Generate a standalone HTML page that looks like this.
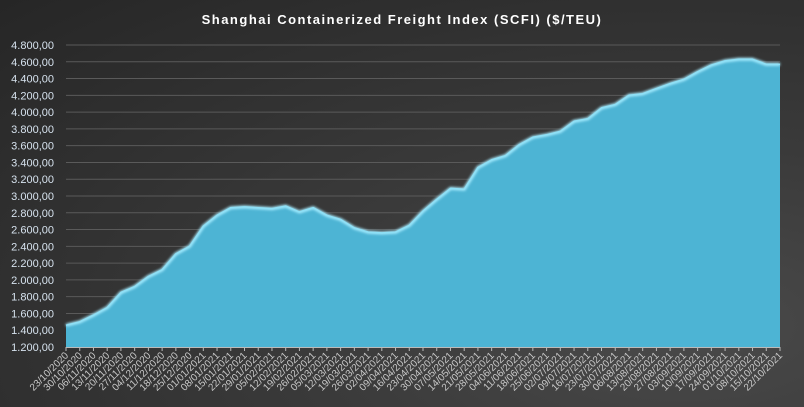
<!DOCTYPE html>
<html><head><meta charset="utf-8"><style>
html,body{margin:0;padding:0}
body{width:804px;height:407px;overflow:hidden;background:radial-gradient(ellipse at 85% 80%,#4a4a4a 0%,#3a3a3a 40%,#262626 100%);font-family:"Liberation Sans",sans-serif}
</style></head><body>
<svg id="s" width="804" height="407" xmlns="http://www.w3.org/2000/svg" style="position:absolute;left:0;top:0">
<defs><filter id="g" x="-5%" y="-5%" width="110%" height="110%"><feGaussianBlur stdDeviation="1.2"/></filter></defs>
<text x="402" y="24" text-anchor="middle" fill="#ffffff" font-size="13" font-weight="bold" letter-spacing="1.5">Shanghai Containerized Freight Index  (SCFI) ($/TEU)</text>
<g id="grid"></g><g id="area"></g><g id="ax"></g>
</svg>
<script>
var s=document.getElementById('s'),NS='http://www.w3.org/2000/svg';
function el(t,a,p,txt){var e=document.createElementNS(NS,t);for(var k in a)e.setAttribute(k,a[k]);if(txt)e.textContent=txt;(p||s).appendChild(e);return e;}
var x0=66,x1=780,yb=347,yt=45;
function Y(v){return yb-(v-1200)/3600*(yb-yt);}
var grid=document.getElementById('grid'),ax=document.getElementById('ax'),ar=document.getElementById('area');
for(var v=1200;v<=4800;v+=200){var y=Y(v);
 if(v>1200)el('line',{x1:x0,x2:x1,y1:y,y2:y,stroke:'#5a5a5a','stroke-width':1},grid);
 var t=(v/1000|0)+'.'+String(v%1000).padStart(3,'0')+',00';
 el('text',{x:54,y:y+4,'text-anchor':'end',fill:'#d6e2ee','font-size':'11'},ax,t);}
var d=[1460,1500,1580,1670,1850,1920,2040,2120,2310,2400,2640,2770,2860,2870,2860,2850,2880,2810,2860,2770,2720,2620,2570,2560,2570,2650,2820,2960,3090,3080,3340,3430,3480,3610,3700,3730,3770,3890,3920,4050,4090,4200,4220,4280,4340,4390,4480,4560,4610,4630,4610,4630,4570,4570];
d.splice(50,1);
var n=d.length,dx=(x1-x0)/(n-1);
var start=new Date(2020,9,23),labels=[];
for(var i=0;i<n;i++){var dt=new Date(start.getTime()+i*7*864e5);
 labels.push(String(dt.getDate()).padStart(2,'0')+'/'+String(dt.getMonth()+1).padStart(2,'0')+'/'+dt.getFullYear());}
var p='M'+x0+','+yb;var line='';
for(var i=0;i<n;i++){var x=x0+i*dx,y=Y(d[i]);p+=' L'+x.toFixed(1)+','+y.toFixed(1);line+=(i?' L':'M')+x.toFixed(1)+','+y.toFixed(1);}
p+=' L'+x1+','+yb+' Z';
el('path',{d:p,fill:'#4db4d4'},ar);
el('path',{d:line,fill:'none',stroke:'#a8ecff','stroke-width':3,filter:'url(#g)','stroke-linejoin':'round'},ar);
el('path',{d:line,fill:'none',stroke:'#8ee0f6','stroke-width':1.5,'stroke-linejoin':'round'},ar);
el('line',{x1:x0,x2:x1,y1:yb+0.5,y2:yb+0.5,stroke:'#bbbbbb','stroke-width':1},ax);
for(var i=0;i<n;i++){var x=x0+i*dx;
 el('line',{x1:x,x2:x,y1:yb,y2:yb+4,stroke:'#bbbbbb','stroke-width':1},ax);
 el('text',{x:x+3,y:yb+9,'text-anchor':'end',fill:'#c8c8c8','font-size':'10',transform:'rotate(-45 '+(x+3)+' '+(yb+9)+')'},ax,labels[i]);}
</script>
</body></html>
